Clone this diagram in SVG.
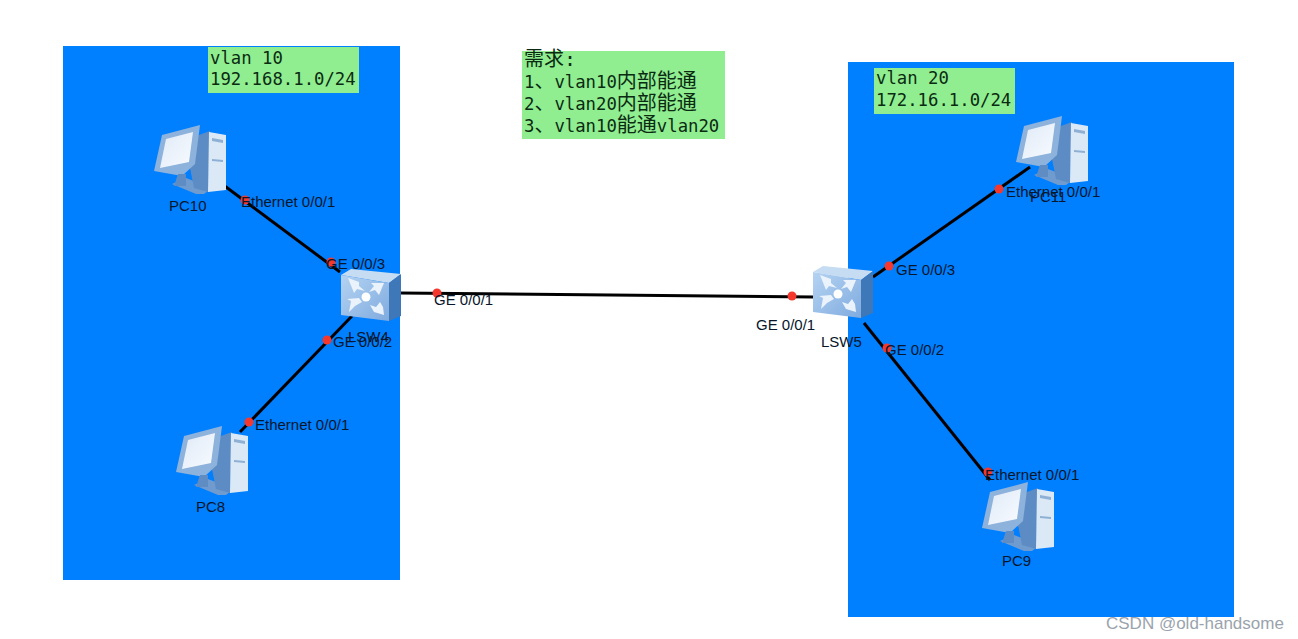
<svg xmlns="http://www.w3.org/2000/svg" width="1298" height="639" viewBox="0 0 1298 639">
<style>
.zone{fill:#007fff}
.note{fill:#90ee90}
.mono{font:17.3px "DejaVu Sans Mono","Noto Sans CJK SC",monospace;fill:#0b2a12}
.cjk{font-size:20px}
.lbl{font:15px "Liberation Sans",Arial,sans-serif;fill:#06162b}
.link{stroke:#000;stroke-width:3;fill:none}
.dot{fill:#f5382e}
</style>
<defs>
<linearGradient id="scr" x1="0" y1="0" x2="1" y2="1"><stop offset="0" stop-color="#dfeaf7"/><stop offset="1" stop-color="#f8fbff"/></linearGradient>
<linearGradient id="sw" x1="0" y1="0" x2="1" y2="1"><stop offset="0" stop-color="#b5d3f2"/><stop offset="1" stop-color="#7fabdf"/></linearGradient>
<g id="pc">
<path d="M18 60L32 54L58 64L50 70L42 70Z" fill="#6f9bcf"/>
<path d="M42 12L56 7L54 68L40 64L36 44Z" fill="#5d8cc4"/>
<path d="M55 8L72 11L72 66L54 68Z" fill="#dbe8f6"/>
<path d="M58 14L69 16V19L58 17ZM58 35L69 36V38L58 37Z" fill="#8fb0d5"/>
<path d="M8 11L46 1L41 40L28 52L0 47Z" fill="#8db2dc"/>
<path d="M12 15L39 8L35 38L6 44Z" fill="url(#scr)"/>
<path d="M24 50L32 50L32 62L20 62Z" fill="#5f8cc3"/>
</g>
<g id="switch">
<path d="M0 6L10 0L60 5L48 14Z" fill="#c5dcf3"/>
<path d="M48 14L60 5L60 47L48 52Z" fill="#3f78b8"/>
<path d="M0 6L48 14L48 52L0 46Z" fill="url(#sw)"/>
<circle cx="25" cy="28" r="4.5" fill="#fff"/>
<path d="M7 9L18 13V17L24 22L16 20L13 24ZM43 14L38 26L34 21L28 23L33 17L30 14ZM8 43L10 32L6 30L18 29L21 33L14 37ZM43 46L33 43L29 36L35 38L39 33L42 38Z" fill="#eaf2fb"/>
</g>
</defs>
<rect width="1298" height="639" fill="#fff"/>
<g id="zone-vlan10"><rect class="zone" x="63" y="46" width="337" height="534"/></g>
<g id="zone-vlan20"><rect class="zone" x="848" y="62" width="386" height="555"/></g>
<g id="connectors">
<path class="link" d="M222 184L340 272"/>
<path class="link" d="M352 316L240 432"/>
<path class="link" d="M400 293L814 297"/>
<path class="link" d="M873 277L1030 167"/>
<path class="link" d="M864 323L990 480"/>
<g class="dot">
<circle cx="245" cy="200" r="4.5"/><circle cx="331" cy="262" r="4.5"/>
<circle cx="327" cy="340" r="4.5"/><circle cx="249" cy="422" r="4.5"/>
<circle cx="437" cy="293" r="4.5"/><circle cx="792" cy="296" r="4.5"/>
<circle cx="889" cy="266" r="4.5"/><circle cx="999" cy="189" r="4.5"/>
<circle cx="887" cy="348" r="4.5"/><circle cx="988" cy="472" r="4.5"/>
</g>
</g>
<g id="note-vlan10"><rect class="note" x="208" y="47" width="151" height="46"/>
<text class="mono" x="210" y="64">vlan 10</text><text class="mono" x="210" y="85">192.168.1.0/24</text></g>
<g id="note-vlan20"><rect class="note" x="874" y="68" width="141" height="46"/>
<text class="mono" x="876" y="84">vlan 20</text><text class="mono" x="876" y="106">172.16.1.0/24</text></g>
<g id="note-req"><rect class="note" x="522" y="51" width="203" height="88"/>
<text class="mono" x="524" y="66"><tspan class="cjk">需求:</tspan></text>
<text class="mono" x="524" y="88">1<tspan class="cjk">、</tspan>vlan10<tspan class="cjk">内部能通</tspan></text>
<text class="mono" x="524" y="110">2<tspan class="cjk">、</tspan>vlan20<tspan class="cjk">内部能通</tspan></text>
<text class="mono" x="524" y="132">3<tspan class="cjk">、</tspan>vlan10<tspan class="cjk">能通</tspan>vlan20</text></g>
<g id="PC10"><use href="#pc" x="154" y="124"/><text class="lbl" x="169" y="211">PC10</text></g>
<g id="PC8"><use href="#pc" x="176" y="425"/><text class="lbl" x="196" y="512">PC8</text></g>
<g id="PC9"><use href="#pc" x="982" y="481"/><text class="lbl" x="1002" y="566">PC9</text></g>
<g id="PC11"><use href="#pc" x="1016" y="115"/><text class="lbl" x="1030" y="202">PC11</text></g>
<g id="LSW4"><use href="#switch" x="341" y="269"/><text class="lbl" x="348" y="342">LSW4</text></g>
<g id="LSW5"><use href="#switch" x="813" y="266"/><text class="lbl" x="821" y="347">LSW5</text></g>
<g id="port-labels">
<text class="lbl" x="241" y="207">Ethernet 0/0/1</text>
<text class="lbl" x="326" y="269">GE 0/0/3</text>
<text class="lbl" x="333" y="347">GE 0/0/2</text>
<text class="lbl" x="255" y="430">Ethernet 0/0/1</text>
<text class="lbl" x="434" y="305">GE 0/0/1</text>
<text class="lbl" x="756" y="330">GE 0/0/1</text>
<text class="lbl" x="896" y="275">GE 0/0/3</text>
<text class="lbl" x="885" y="355">GE 0/0/2</text>
<text class="lbl" x="1006" y="197">Ethernet 0/0/1</text>
<text class="lbl" x="985" y="480">Ethernet 0/0/1</text>
</g>
<text x="1106" y="629" font-family="Liberation Sans,Arial,sans-serif" font-size="17" fill="#9aa3ad">CSDN @old-handsome</text>
</svg>
